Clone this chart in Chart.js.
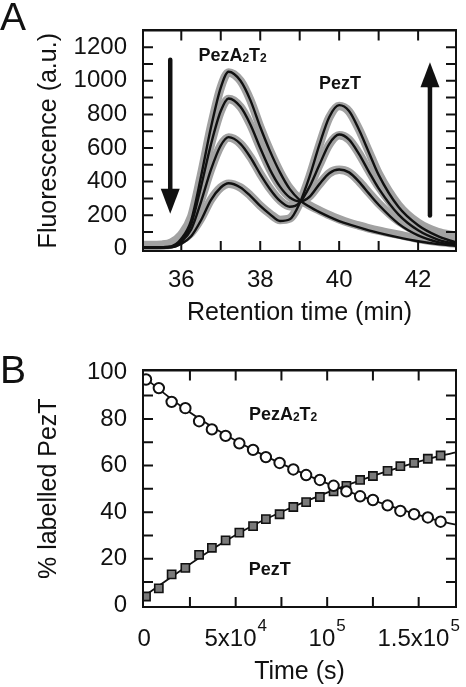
<!DOCTYPE html>
<html>
<head>
<meta charset="utf-8">
<script src="https://cdn.jsdelivr.net/npm/chart.js@4.4.1/dist/chart.umd.min.js"></script>
<style>
  html, body { margin: 0; padding: 0; background: #fff; }
  #wrap { position: relative; width: 466px; height: 687px; overflow: hidden; }
  canvas { position: absolute; left: 0; }
  #chartA { top: 0; }
  #chartB { top: 340px; }
  .box { position: absolute; border: 2px solid #111; box-sizing: border-box; pointer-events: none; }
</style>
</head>
<body>
<div id="wrap">
  <canvas id="chartA" width="466" height="340"></canvas>
  <canvas id="chartB" width="466" height="347"></canvas>
</div>
<script>
// ---- panel A: chromatograms (black = fit, grey = measured trace) ----
const retTime = [35.0, 35.25, 35.5, 35.75, 36.0, 36.25, 36.5, 36.75, 37.0, 37.2, 37.5, 37.75, 38.0, 38.25, 38.5,
                 38.75, 39.0, 39.25, 39.5, 39.75, 40.0, 40.25, 40.5, 40.75, 41.0, 41.5, 42.0, 42.5, 42.95];
const fit1 = [8, 8, 9, 15, 60, 170, 430, 720, 960, 1054, 1000, 885, 725, 580, 455, 355, 290, 250, 218, 190, 165, 145, 128, 110, 95, 68, 45, 28, 18];
const fit2 = [8, 8, 9, 12, 50, 145, 370, 620, 820, 895, 845, 740, 600, 470, 370, 305, 282, 310, 385, 450, 472, 455, 400, 330, 262, 150, 80, 40, 22];
const fit3 = [8, 8, 8, 10, 42, 115, 280, 470, 615, 665, 625, 545, 445, 355, 285, 250, 275, 370, 500, 625, 680, 650, 565, 460, 360, 205, 110, 55, 28];
const fit4 = [8, 8, 8, 9, 30, 75, 170, 290, 365, 390, 365, 315, 255, 205, 166, 176, 272, 430, 620, 785, 855, 820, 710, 575, 440, 250, 140, 75, 38];
const raw1 = [22, 22, 25, 38, 85, 190, 440, 725, 960, 1050, 1000, 885, 725, 582, 458, 360, 295, 258, 228, 200, 176, 155, 138, 122, 108, 84, 60, 42, 32];
const raw2 = [20, 20, 22, 32, 72, 165, 380, 622, 820, 892, 845, 740, 602, 472, 372, 308, 284, 312, 385, 450, 470, 455, 402, 335, 270, 165, 100, 70, 55];
const raw3 = [20, 20, 22, 30, 62, 135, 290, 472, 615, 662, 625, 547, 447, 357, 288, 253, 277, 370, 500, 622, 676, 650, 568, 465, 370, 220, 130, 85, 65];
const raw4 = [18, 18, 20, 26, 50, 95, 180, 292, 365, 388, 365, 317, 257, 208, 172, 181, 274, 430, 618, 782, 850, 818, 712, 580, 448, 262, 155, 100, 78];

const yTicksA = [0, 200, 400, 600, 800, 1000, 1200];
const xTicksA = [36, 38, 40, 42];
const yMarksA = [100, 200, 300, 400, 500, 600, 700, 800, 900, 1000, 1100, 1200];
const xMarksA = [36, 37, 38, 39, 40, 41, 42];

// ---- panel B: % labelled PezT vs time ----
const timeS = [1000, 8000, 15000, 22500, 30000, 37000, 44500, 52000, 59500, 66500, 74000, 81500,
               88500, 96000, 103500, 110500, 118000, 125000, 133000, 140000, 147500, 155000, 162000];
const pctA2T2 = [96.9, 93.2, 87.3, 84.6, 79.0, 75.5, 72.7, 69.5, 66.7, 63.6, 61.1, 58.3,
                 55.9, 53.8, 51.3, 48.9, 46.8, 45.2, 42.9, 40.5, 39.1, 37.7, 35.9];
const pctT = [3.8, 7.3, 13.3, 16.1, 21.7, 24.7, 27.9, 31.2, 34.0, 37.0, 39.1, 42.2,
              44.3, 46.5, 48.9, 51.3, 53.8, 55.5, 57.7, 59.7, 61.1, 62.9, 64.3];
const fitTimeS = [0, 20000, 40000, 60000, 80000, 100000, 120000, 140000, 160000, 170400];
const fitA2T2 = [97.8, 85.5, 75.2, 66.5, 59.0, 52.3, 46.4, 41.2, 36.5, 34.6];
const fitT = [4.0, 15.0, 25.5, 34.5, 41.8, 48.4, 54.2, 59.3, 63.8, 65.6];

const yTicksB = [0, 20, 40, 60, 80, 100];
const xTicksB = [0, 50000, 100000, 150000];
const xTickLabelsB = [['0', ''], ['5x10', '4'], ['10', '5'], ['1.5x10', '5']];
const yMarksB = [10, 20, 30, 40, 50, 60, 70, 80, 90];
const xMarksB = [25000, 50000, 75000, 100000, 125000, 150000];

const ff = "'Liberation Sans', Arial, Helvetica, sans-serif";
const ink = '#111111';
const grey = '#a2a2a2';

const pts = (xs, ys) => xs.map((x, i) => ({ x: x, y: ys[i] }));

function drawParts(ctx, parts, cx, cy) {
  const main = 'bold 18px ' + ff, small = 'bold 12px ' + ff;
  let w = 0;
  parts.forEach(([t, sub]) => { ctx.font = sub ? small : main; w += ctx.measureText(t).width; });
  let px = cx - w / 2;
  const base = cy + 6.5;
  ctx.textAlign = 'left';
  ctx.textBaseline = 'alphabetic';
  parts.forEach(([t, sub]) => {
    ctx.font = sub ? small : main;
    ctx.fillText(t, px, base + (sub ? 1 : 0));
    px += ctx.measureText(t).width;
  });
}

// frame + inward tick marks, then letter, labels, arrows
function makeDecor(cfg) {
  return {
    id: 'decor' + cfg.letter,
    afterDraw(chart) {
      const ctx = chart.ctx;
      const x = chart.scales.x, y = chart.scales.y;
      const L = x.left, R = x.right, T = y.top, B = y.bottom;
      const len = 10;
      ctx.save();
      ctx.fillStyle = ink;
      ctx.strokeStyle = ink;

      ctx.lineWidth = 2;
      ctx.beginPath();
      ctx.moveTo(L, T); ctx.lineTo(R, T); ctx.lineTo(R, B); ctx.lineTo(L, B); ctx.closePath();
      ctx.stroke();

      ctx.lineCap = 'butt';
      ctx.beginPath();
      cfg.xMarks.forEach(v => {
        const px = x.getPixelForValue(v);
        ctx.moveTo(px, B); ctx.lineTo(px, B - len);
        ctx.moveTo(px, T); ctx.lineTo(px, T + len);
      });
      cfg.yMarks.forEach(v => {
        const py = y.getPixelForValue(v);
        ctx.moveTo(L, py); ctx.lineTo(L + len, py);
        ctx.moveTo(R, py); ctx.lineTo(R - len, py);
      });
      ctx.stroke();

      ctx.font = '39px ' + ff;
      ctx.textAlign = 'left';
      ctx.textBaseline = 'alphabetic';
      ctx.fillText(cfg.letter, 0, cfg.letterY);

      (cfg.labels || []).forEach(l => drawParts(ctx, l.parts, x.getPixelForValue(l.x), y.getPixelForValue(l.y)));

      (cfg.arrows || []).forEach(ar => {
        const px = x.getPixelForValue(ar.x);
        const y0 = y.getPixelForValue(ar.from), y1 = y.getPixelForValue(ar.to);
        const dir = Math.sign(y1 - y0), head = 25, half = 9.5;
        ctx.lineWidth = 4.5;
        ctx.lineCap = 'round';
        ctx.beginPath();
        ctx.moveTo(px, y0);
        ctx.lineTo(px, y1 - dir * head);
        ctx.stroke();
        ctx.beginPath();
        ctx.moveTo(px - half, y1 - dir * head);
        ctx.lineTo(px + half, y1 - dir * head);
        ctx.lineTo(px, y1);
        ctx.closePath();
        ctx.fill();
      });

      if (cfg.expTicks) {
        const base = B + 38.5;
        ctx.textAlign = 'left';
        cfg.expTicks.values.forEach((v, i) => {
          const [b, e] = cfg.expTicks.labels[i];
          ctx.font = '24px ' + ff;
          const wb = ctx.measureText(b).width;
          ctx.font = '17px ' + ff;
          const we = e ? ctx.measureText(e).width + 1 : 0;
          const px = x.getPixelForValue(v) - (wb + we) / 2;
          ctx.font = '24px ' + ff;
          ctx.fillText(b, px, base);
          if (e) {
            ctx.font = '17px ' + ff;
            ctx.fillText(e, px + wb + 1, base - 15);
          }
        });
      }
      ctx.restore();
    }
  };
}

// plain box over the plot area, sized from the chart's own chartArea
function addBox(chart, canvasTop) {
  const a = chart.chartArea;
  const d = document.createElement('div');
  d.className = 'box';
  d.style.left = (a.left - 1) + 'px';
  d.style.top = (canvasTop + a.top - 1) + 'px';
  d.style.width = (a.right - a.left + 2) + 'px';
  d.style.height = (a.bottom - a.top + 2) + 'px';
  document.getElementById('wrap').appendChild(d);
}

const tickFont = { family: ff, size: 24 };
const titleFont = { family: ff, size: 25 };

function axisBase(extra) {
  return Object.assign({
    type: 'linear',
    grid: { display: false, drawTicks: false },
    border: { display: false }
  }, extra);
}

// ---------- chart A ----------
const blackA = [fit1, fit2, fit3, fit4].map(arr => ({
  data: pts(retTime, arr), borderColor: ink, borderWidth: 2.4, pointRadius: 0
}));
const greyA = [raw1, raw2, raw3, raw4].map(arr => ({
  data: pts(retTime, arr), borderColor: grey, borderWidth: 8.5, pointRadius: 0
}));

const chartA = new Chart(document.getElementById('chartA'), {
  type: 'line',
  data: { datasets: blackA.concat(greyA) },
  options: {
    responsive: false,
    animation: false,
    layout: { padding: { left: 34, right: 10, top: 10, bottom: 12 } },
    elements: { line: { cubicInterpolationMode: 'monotone' } },
    plugins: { legend: { display: false }, tooltip: { enabled: false } },
    scales: {
      x: axisBase({
        min: 35.03, max: 42.96,
        afterBuildTicks: s => { s.ticks = xTicksA.map(v => ({ value: v })); },
        afterFit: s => { s.height = 77; },
        ticks: { font: tickFont, color: ink, padding: 15, maxRotation: 0, autoSkip: false, callback: v => String(v) },
        title: { display: true, text: 'Retention time (min)', font: titleFont, color: ink, padding: 0 }
      }),
      y: axisBase({
        min: -13, max: 1300,
        afterBuildTicks: s => { s.ticks = yTicksA.map(v => ({ value: v })); },
        afterFit: s => { s.width = 109; },
        ticks: { font: tickFont, color: ink, padding: 16, autoSkip: false, callback: v => String(v) },
        title: { display: true, text: 'Fluorescence (a.u.)', font: titleFont, color: ink, padding: 0 }
      })
    }
  },
  plugins: [makeDecor({
    letter: 'A', letterY: 30, xMarks: xMarksA, yMarks: yMarksA,
    labels: [
      { parts: [['PezA', 0], ['2', 1], ['T', 0], ['2', 1]], x: 37.3, y: 1154 },
      { parts: [['PezT', 0]], x: 40.02, y: 990 }
    ],
    arrows: [
      { x: 35.72, from: 1125, to: 209 },
      { x: 42.3, from: 198, to: 1110 }
    ]
  })]
});

// ---------- chart B ----------
const chartB = new Chart(document.getElementById('chartB'), {
  type: 'line',
  data: {
    datasets: [
      { data: pts(timeS, pctA2T2), showLine: false, pointStyle: 'circle', pointRadius: 5.2,
        pointBackgroundColor: '#fff', pointBorderColor: ink, pointBorderWidth: 2 },
      { data: pts(timeS, pctT), showLine: false, pointStyle: 'rect', pointRadius: 5.8,
        pointBackgroundColor: '#7a7a7a', pointBorderColor: ink, pointBorderWidth: 1.6 },
      { data: pts(fitTimeS, fitA2T2), borderColor: ink, borderWidth: 1.8, pointRadius: 0,
        cubicInterpolationMode: 'monotone' },
      { data: pts(fitTimeS, fitT), borderColor: ink, borderWidth: 1.8, pointRadius: 0,
        cubicInterpolationMode: 'monotone' }
    ]
  },
  options: {
    responsive: false,
    animation: false,
    layout: { padding: { left: 34, right: 10, top: 24, bottom: 0 } },
    plugins: { legend: { display: false }, tooltip: { enabled: false } },
    scales: {
      x: axisBase({
        min: -650, max: 170400,
        afterFit: s => { s.height = 80; },
        ticks: { display: false },
        title: { display: true, text: 'Time (s)', font: titleFont, color: ink, padding: 0 }
      }),
      y: axisBase({
        min: -0.7, max: 100.8,
        afterBuildTicks: s => { s.ticks = yTicksB.map(v => ({ value: v })); },
        afterFit: s => { s.width = 109; },
        ticks: { font: tickFont, color: ink, padding: 16, autoSkip: false, callback: v => String(v) },
        title: { display: true, text: '% labelled PezT', font: titleFont, color: ink, padding: 0 }
      })
    }
  },
  plugins: [makeDecor({
    letter: 'B', letterY: 43, xMarks: xMarksB, yMarks: yMarksB,
    labels: [
      { parts: [['PezA', 0], ['2', 1], ['T', 0], ['2', 1]], x: 75900, y: 82.3 },
      { parts: [['PezT', 0]], x: 68650, y: 16.0 }
    ],
    expTicks: { values: xTicksB, labels: xTickLabelsB }
  })]
});

addBox(chartA, 0);
addBox(chartB, 340);
</script>
</body>
</html>
